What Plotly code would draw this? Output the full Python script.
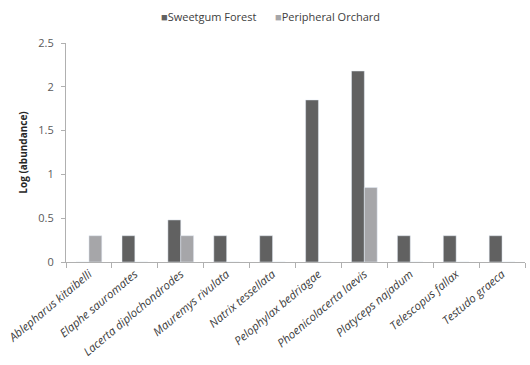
import plotly.graph_objects as go

species = ["Ablepharus kitaibelli", "Elaphe sauromates", "Lacerta diplochondrodes",
           "Mauremys rivulata", "Natrix tessellata", "Pelophylax bedriagae",
           "Phoenicolacerta laevis", "Platyceps najadum", "Telescopus fallax", "Testudo graeca"]
series_names = ["Sweetgum Forest", "Peripheral Orchard"]
sweetgum = [0, 0.30, 0.48, 0.30, 0.30, 1.85, 2.18, 0.30, 0.30, 0.30]
orchard = [0.30, 0, 0.30, 0, 0, 0, 0.85, 0, 0, 0]
colors = ["#616161", "#a6a6a9"]
legend_x = [0.203, 0.452]

font = "Open Sans"
fig = go.Figure()
for name, vals, c in zip(series_names, [sweetgum, orchard], colors):
    fig.add_trace(go.Bar(x=species, y=vals, name=name, marker_color=c, showlegend=False))

for name, c, lx in zip(series_names, colors, legend_x):
    fig.add_annotation(text=f"<span style='color:{c}'>■</span>{name}",
                       xref="paper", yref="paper", x=lx, y=1.119,
                       xanchor="left", yanchor="middle", showarrow=False,
                       font=dict(family=font, size=11, color="#404040"))

fig.update_layout(
    width=530, height=365,
    margin=dict(l=58, r=5, t=43, b=103),
    paper_bgcolor="white", plot_bgcolor="white",
    barmode="group", bargap=0.44, bargroupgap=0,
    font=dict(family=font, size=11, color="#404040"),
)
fig.update_xaxes(
    showline=True, linecolor="#b0b0b0", linewidth=1,
    ticks="outside", tickson="boundaries", ticklen=5, tickcolor="#b0b0b0",
    tickangle=-40, tickfont=dict(family=font, size=11.5, color="#404040", style="italic"),
    showgrid=False,
)
fig.update_yaxes(
    range=[0, 2.5], dtick=0.5, showline=True, linecolor="#b0b0b0", linewidth=1,
    ticks="outside", ticklen=4, tickcolor="#b0b0b0", showgrid=False, zeroline=False,
    ticklabelstandoff=5,
    tickfont=dict(family=font, size=11, color="#595959"),
    title=dict(text="<b>Log (abundance)</b>", font=dict(family=font, size=10, color="#262626"), standoff=8),
)
fig.write_html("out.html")
